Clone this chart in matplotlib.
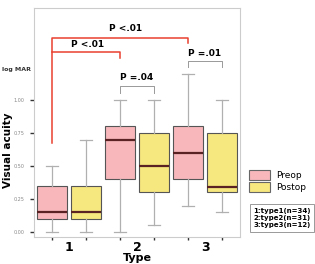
import matplotlib.pyplot as plt
import matplotlib.patches as mpatches

# Box plot statistics: (whisker low, Q1, median, Q3, whisker high)
types = ['1', '2', '3']
preop_stats = [(0.00, 0.10, 0.15, 0.35, 0.50),
               (0.00, 0.40, 0.70, 0.80, 1.00),
               (0.20, 0.40, 0.60, 0.80, 1.20)]
postop_stats = [(0.00, 0.10, 0.15, 0.35, 0.70),
                (0.05, 0.30, 0.50, 0.75, 1.00),
                (0.15, 0.30, 0.34, 0.75, 1.00)]
yticks = [0.00, 0.25, 0.50, 0.75, 1.00]
group_notes = ['1:type1(n=34)', '2:type2(n=31)', '3:type3(n=12)']

pre_color = '#F7B7BB'
post_color = '#F6E77E'


def to_bxp(stats):
    return [dict(whislo=s[0], q1=s[1], med=s[2], q3=s[3], whishi=s[4], fliers=[]) for s in stats]


fig = plt.figure(figsize=(3.15, 2.64), dpi=100)
ax = fig.add_axes([0.108, 0.102, 0.654, 0.868])

centers = [1, 2, 3]
pre_pos = [c - 0.25 for c in centers]
post_pos = [c + 0.25 for c in centers]

common = dict(widths=0.43, patch_artist=True, showfliers=False,
              whiskerprops=dict(color='#b0b0b0', lw=0.9),
              capprops=dict(color='#b0b0b0', lw=0.9),
              medianprops=dict(color='#5a2222', lw=1.6),
              manage_ticks=False)
b1 = ax.bxp(to_bxp(preop_stats), positions=pre_pos,
            boxprops=dict(facecolor=pre_color, edgecolor='#555555', lw=0.8), **common)
b2 = ax.bxp(to_bxp(postop_stats), positions=post_pos,
            boxprops=dict(facecolor=post_color, edgecolor='#555555', lw=0.8), **common)
for b in (b1, b2):
    for cap in b['caps']:
        x = cap.get_xdata()
        m = (x[0] + x[1]) / 2
        cap.set_xdata([m - 0.095, m + 0.095])

ax.set_xlim(0.485, 3.515)
ax.set_ylim(-0.038, 1.697)

# significance brackets
red = '#E8402F'
ax.plot([0.75, 0.75, 2.75, 2.75], [0.672, 1.472, 1.472, 1.432], color=red, lw=1.1)
ax.plot([0.75, 1.75, 1.75], [1.366, 1.366, 1.32], color=red, lw=1.1)
ax.text(1.83, 1.54, 'P <.01', ha='center', va='center', fontsize=6.5, fontweight='bold')
ax.text(1.27, 1.42, 'P <.01', ha='center', va='center', fontsize=6.5, fontweight='bold')

gray = '#999999'
ax.plot([1.75, 1.75, 2.25, 2.25], [1.053, 1.106, 1.106, 1.053], color=gray, lw=0.7)
ax.plot([2.75, 2.75, 3.25, 3.25], [1.252, 1.298, 1.298, 1.252], color=gray, lw=0.7)
ax.text(2.0, 1.17, 'P =.04', ha='center', va='center', fontsize=6.5, fontweight='bold')
ax.text(3.0, 1.35, 'P =.01', ha='center', va='center', fontsize=6.5, fontweight='bold')

# axes styling
ax.set_yticks(yticks)
ax.set_yticklabels([f'{v:.2f}' for v in yticks], fontsize=3.5, color='#888888')
ax.tick_params(axis='y', length=3, width=1, color='#333333', pad=4)
ax.set_xticks(pre_pos + post_pos)
ax.set_xticklabels([])
ax.tick_params(axis='x', length=2.5, width=1, color='#333333')
for c, t in zip(centers, types):
    ax.text(c, -0.07, t, ha='center', va='top', fontsize=9, fontweight='bold', clip_on=False)
for s in ax.spines.values():
    s.set_color('#cccccc')
    s.set_linewidth(0.8)

fig.text(8 / 315, 1 - 150 / 264, 'Visual acuity', rotation=90, ha='center', va='center',
         fontsize=7.5, fontweight='bold')
fig.text(137 / 315, 1 - 258 / 264, 'Type', ha='center', va='center',
         fontsize=8, fontweight='bold')
fig.text(0.006, 1 - 69 / 264, 'log MAR', fontsize=4.5, fontweight='bold', va='center', color='#333333')

# legend
handles = [mpatches.Patch(facecolor=pre_color, edgecolor='#666666', lw=0.8, label='Preop'),
           mpatches.Patch(facecolor=post_color, edgecolor='#666666', lw=0.8, label='Postop')]
fig.legend(handles=handles, loc='center left', bbox_to_anchor=(0.775, 1 - 181 / 264),
           frameon=False, fontsize=6.5, handlelength=2.4, handleheight=1.3,
           handletextpad=0.6, labelspacing=0.25, borderpad=0)

fig.text(0.895, 1 - 218 / 264, '\n'.join(group_notes), ha='center', va='center',
         fontsize=5, fontweight='bold', linespacing=1.3,
         bbox=dict(boxstyle='square,pad=0.45', facecolor='white', edgecolor='#999999', lw=0.7))

fig.savefig('out.png', dpi=100)
